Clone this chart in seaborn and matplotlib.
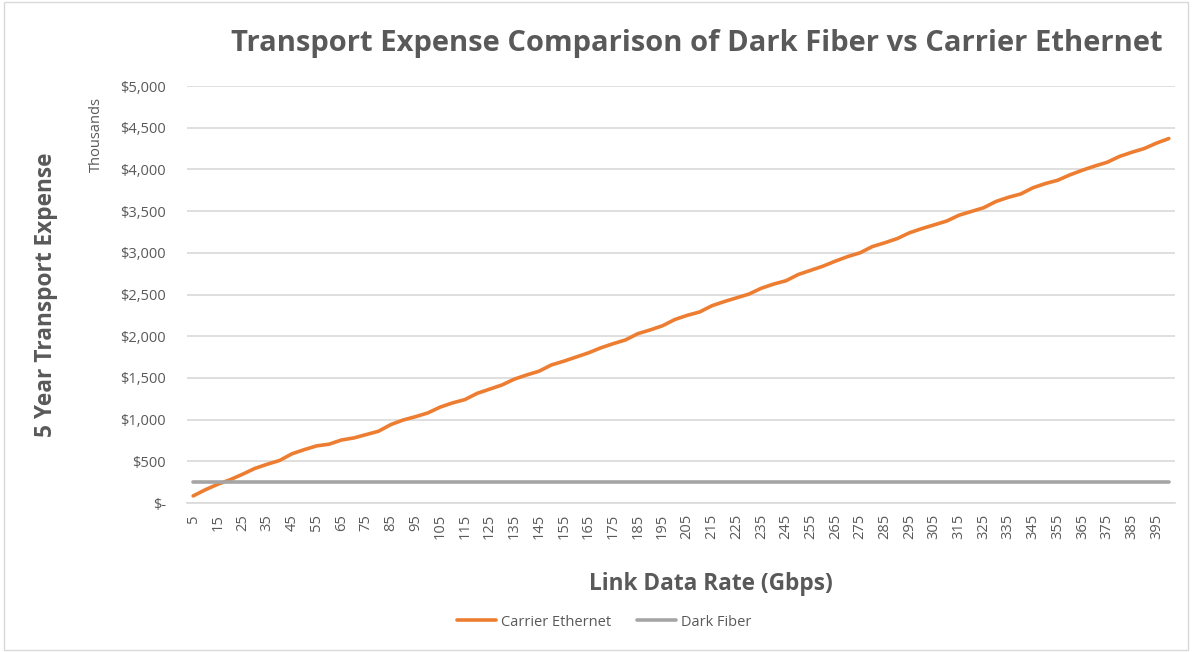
import matplotlib
matplotlib.use("Agg")
import matplotlib.pyplot as plt
import seaborn as sns
import pandas as pd
from matplotlib.patches import Rectangle
from matplotlib.lines import Line2D

rates = list(range(5, 401, 5))
carrier_ethernet = [
    85, 160, 225, 280, 345, 415, 465, 510, 590, 640,
    685, 705, 755, 780, 820, 860, 940, 995, 1035, 1080,
    1150, 1200, 1240, 1315, 1365, 1415, 1485, 1535, 1580, 1655,
    1700, 1750, 1800, 1860, 1910, 1955, 2030, 2075, 2125, 2200,
    2250, 2290, 2365, 2415, 2460, 2505, 2575, 2625, 2665, 2740,
    2790, 2840, 2900, 2955, 3000, 3075, 3120, 3170, 3240, 3290,
    3335, 3380, 3450, 3495, 3540, 3615, 3665, 3705, 3780, 3830,
    3870, 3935, 3990, 4040, 4085, 4155, 4205, 4250, 4315, 4370,
]
dark_fiber = [250] * len(rates)
series_names = ["Carrier Ethernet", "Dark Fiber"]
y_ticks = [0, 500, 1000, 1500, 2000, 2500, 3000, 3500, 4000, 4500, 5000]
y_tick_labels = ["$-", "$500", "$1,000", "$1,500", "$2,000", "$2,500",
                 "$3,000", "$3,500", "$4,000", "$4,500", "$5,000"]
x_tick_values = list(range(5, 400, 10))

df = pd.DataFrame({
    "rate": rates * 2,
    "value": carrier_ethernet + dark_fiber,
    "series": [series_names[0]] * len(rates) + [series_names[1]] * len(rates),
})

sns.set_theme(style="white")
plt.rcParams["font.family"] = ["Open Sans", "DejaVu Sans"]
text_color = "#595959"
colors = {"Carrier Ethernet": "#ED7D31", "Dark Fiber": "#A5A5A5"}

fig = plt.figure(figsize=(11.92, 6.52), dpi=100)
ax = fig.add_axes([187 / 1192, 1 - 503 / 652, (1175 - 187) / 1192, (503 - 86) / 652])

sns.lineplot(data=df, x="rate", y="value", hue="series", palette=colors,
             linewidth=2.6, ax=ax, legend=False, zorder=3)

ax.set_xlim(2.5, 402.5)
ax.set_ylim(0, 5000)
ax.set_yticks(y_ticks)
ax.set_yticklabels(y_tick_labels, color=text_color, fontsize=10.5)
ax.set_xticks(x_tick_values)
ax.set_xticklabels([str(v) for v in x_tick_values], rotation=90,
                   color=text_color, fontsize=10.5)
ax.tick_params(axis="both", length=0, pad=8)
ax.tick_params(axis="y", pad=15)
ax.grid(axis="y", color="#D9D9D9", linewidth=1.2)
ax.grid(axis="x", visible=False)
for s in ["top", "right", "left"]:
    ax.spines[s].set_visible(False)
ax.spines["bottom"].set_color("#D9D9D9")
ax.spines["bottom"].set_linewidth(1.2)
ax.set_xlabel("")
ax.set_ylabel("")

fig.text(697 / 1192, 1 - 43 / 652,
         "Transport Expense Comparison of Dark Fiber vs Carrier Ethernet",
         ha="center", va="center", fontsize=21, fontweight="bold", color=text_color)
fig.text(46 / 1192, 1 - 295 / 652, "5 Year Transport Expense", rotation=90,
         ha="center", va="center", fontsize=16.3, fontweight="bold", color=text_color)
fig.text(96 / 1192, 1 - 135 / 652, "Thousands", rotation=90,
         ha="center", va="center", fontsize=10.5, color=text_color)
fig.text(711 / 1192, 1 - 584 / 652, "Link Data Rate (Gbps)",
         ha="center", va="center", fontsize=16.3, fontweight="bold", color=text_color)

handles = [Line2D([], [], color=colors[n], linewidth=2.6) for n in series_names]
leg = fig.legend(handles, series_names, loc="center", ncol=2, frameon=False,
                 bbox_to_anchor=(604 / 1192, 1 - 622 / 652), fontsize=10.5,
                 handlelength=2.7, handletextpad=0.3, columnspacing=1.8)
for t in leg.get_texts():
    t.set_color(text_color)

fig.patches.append(Rectangle((4 / 1192, 2 / 652), 1184 / 1192, 648 / 652,
                             transform=fig.transFigure, fill=False,
                             edgecolor="#D9D9D9", linewidth=1))

fig.savefig("out.png", dpi=100, facecolor="white")
